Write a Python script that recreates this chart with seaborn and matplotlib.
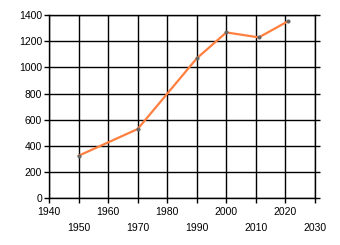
import matplotlib
matplotlib.use("Agg")
import matplotlib.pyplot as plt
import seaborn as sns
import pandas as pd

years = [1950, 1970, 1990, 2000, 2011, 2021]
values = [325, 529, 1069, 1267, 1229, 1354]
x_ticks = [1940, 1950, 1960, 1970, 1980, 1990, 2000, 2010, 2020, 2030]
y_ticks = [0, 200, 400, 600, 800, 1000, 1200, 1400]

sns.set_style("white")
plt.rcParams['font.family'] = ['Liberation Sans', 'DejaVu Sans']

df = pd.DataFrame({"year": years, "value": values})

fig = plt.figure(figsize=(3.4, 2.45), dpi=100)
ax = fig.add_axes([49/340, 1 - 198.3/245, (315 - 49)/340, (198.3 - 15)/245])

sns.lineplot(data=df, x="year", y="value", ax=ax, color="#FF7F3F", linewidth=1.6,
             marker="o", markersize=2.2, markerfacecolor="#666666", markeredgecolor="#666666")

ax.set_xlim(1940, 2030)
ax.set_ylim(0, 1400)
ax.set_xticks(x_ticks)
ax.set_xticklabels([str(v) for v in x_ticks])
ax.set_yticks(y_ticks)
ax.set_yticklabels([str(v) for v in y_ticks])
ax.set_xlabel("")
ax.set_ylabel("")

ax.grid(True, color="black", linewidth=1.0)
for s in ax.spines.values():
    s.set_color("black")
    s.set_linewidth(1.0)
    s.set_visible(True)

ax.tick_params(axis="y", which="major", left=True, right=True, direction="out",
               length=3.5, width=1.0, color="black", pad=1.5, labelsize=7.5, labelcolor="black")
ax.tick_params(axis="x", which="major", bottom=True, direction="out",
               length=3.5, width=1.0, color="black", pad=2.5, labelsize=7.5, labelcolor="black")

for i, t in enumerate(ax.xaxis.get_major_ticks()):
    if i % 2 == 1:
        t.set_pad(2.5 + 16 * 0.72)

fig.savefig("out.png", dpi=100)
